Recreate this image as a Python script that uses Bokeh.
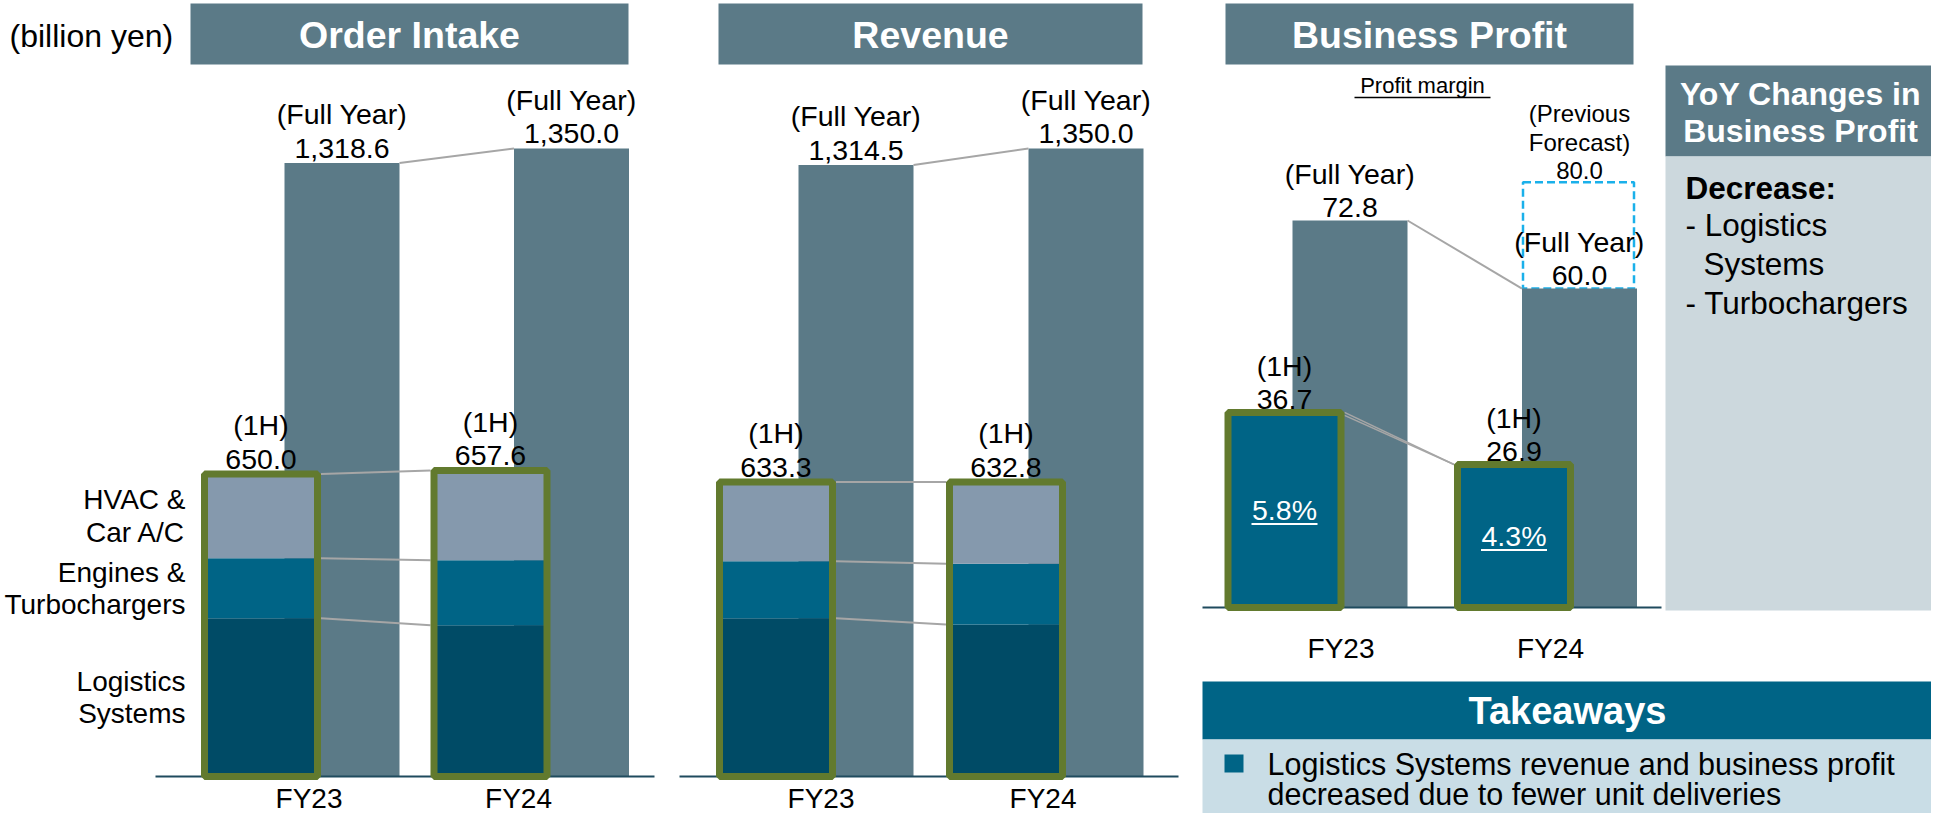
from bokeh.plotting import figure
from bokeh.models import Range1d, ColumnDataSource
from bokeh.core.properties import value
from bokeh.embed import file_html
from bokeh.resources import INLINE

# ---------------- data (billion yen) ----------------
years = ["FY23", "FY24"]
segments = ["Logistics\nSystems", "Engines &\nTurbochargers", "HVAC &\nCar A/C"]

order_full = [1318.6, 1350.0]
order_1h_total = [650.0, 657.6]
order_1h_logistics = [340.0, 325.0]
order_1h_engines = [129.0, 140.0]
order_1h_hvac = [181.0, 192.6]

revenue_full = [1314.5, 1350.0]
revenue_1h_total = [633.3, 632.8]
revenue_1h_logistics = [340.0, 326.5]
revenue_1h_engines = [122.5, 131.0]
revenue_1h_hvac = [170.8, 175.3]

profit_full = [72.8, 60.0]
profit_prev_forecast = 80.0
profit_1h = [36.7, 26.9]
profit_margin_1h = ["5.8%", "4.3%"]

# ---------------- style ----------------
FONT = "Liberation Sans"
SLATE = "#5B7A87"
HVAC_C = "#8599AD"
ENG_C = "#006486"
LOG_C = "#004B66"
GREEN = "#627A2E"
GRAY = "#A6A6A6"
AXIS_C = "#1F4B5E"
CYAN = "#1AB0EA"
YOY_BODY = "#CCD8DD"
TAKE_BODY = "#C9DDE6"
LAB = 28.5  # value label font size (px)

W, H = 1931, 813
M = 0  # default ranges are picture pixel coordinates

p = figure(width=W, height=H, x_range=Range1d(M, M + W), y_range=Range1d(M + H, M),
           output_backend="svg", toolbar_location=None, min_border=0,
           x_axis_location=None, y_axis_location=None, outline_line_color=None)
p.grid.visible = False
p.background_fill_color = "white"

# panel geometry (pixel layout)
panels = {
    "oi": dict(x0=341.5, kx=229.5, base=776, ky=0.4652, dodge=-81, axis=(155, 654),
               fy_off=[-33, -53], fy_dy=22, lab_dy=-32),
    "rv": dict(x0=855.5, kx=230.0, base=776, ky=0.4652, dodge=-80, axis=(679, 1178),
               fy_off=[-35, -43], fy_dy=22, lab_dy=-32),
    "bp": dict(x0=1349.5, kx=229.5, base=607, ky=5.316, dodge=-65.5, axis=(1202, 1661),
               fy_off=[-9, -29], fy_dy=41, lab_dy=-30),
}
for name, P in panels.items():
    xa = -(P["x0"] - M) / P["kx"]
    ya = -(M + H - P["base"]) / P["ky"]
    p.extra_x_ranges[name + "_x"] = Range1d(xa, xa + W / P["kx"])
    p.extra_y_ranges[name + "_y"] = Range1d(ya, ya + H / P["ky"])


def txt(x, y, text, size, color="black", bold=False, align="center", baseline="middle",
        xr="default", yr="default", x_off=0, y_off=0, lh=1.05):
    data = dict(x=list(x), y=list(y), t=list(text))
    kw = {}
    if isinstance(x_off, list):
        data["xo"] = x_off
        kw["x_offset"] = "xo"
    else:
        kw["x_offset"] = x_off
    src = ColumnDataSource(data)
    p.text(x="x", y="y", text="t", source=src, text_font=value(FONT),
           text_font_size=value(f"{size}px"), text_font_style="bold" if bold else "normal",
           text_color=color, text_align=align, text_baseline=baseline, y_offset=y_off,
           text_line_height=lh, x_range_name=xr, y_range_name=yr, **kw)


def fmt(v):
    return f"{v:,.1f}"


def draw_panel(name, full, total, parts=None):
    P = panels[name]
    xr, yr = name + "_x", name + "_y"
    kx, ky = P["kx"], P["ky"]
    idx = list(range(len(years)))
    fw = 115 / kx
    hw = 113 / kx
    d = P["dodge"] / kx
    hx = [i + d for i in idx]
    rk = dict(x_range_name=xr, y_range_name=yr)

    # full-year bars
    p.vbar(x=idx, top=full, bottom=0, width=fw, fill_color=SLATE, line_color=None, **rk)
    p.segment(x0=[idx[0] + fw / 2], y0=[full[0]], x1=[idx[1] - fw / 2], y1=[full[1]],
              line_color=GRAY, line_width=2, **rk)
    # baseline
    p.segment(x0=[P["axis"][0]], x1=[P["axis"][1]], y0=[P["base"]], y1=[P["base"]],
              line_color=AXIS_C, line_width=2)

    # 1H bars
    if parts is not None:
        logi, eng, hvac = parts
        src = ColumnDataSource(dict(x=hx, logistics=logi, engines=eng, hvac=hvac))
        p.vbar_stack(["logistics", "engines", "hvac"], x="x", width=hw, source=src,
                     fill_color=[LOG_C, ENG_C, HVAC_C], line_color=None, **rk)
        levels = [[logi[i], logi[i] + eng[i], total[i]] for i in idx]
        for lv in range(3):
            p.segment(x0=[hx[0] + hw / 2 + 3.5 / kx], y0=[levels[0][lv]],
                      x1=[hx[1] - hw / 2 - 3.5 / kx], y1=[levels[1][lv]],
                      line_color=GRAY, line_width=2, **rk)
    else:
        p.vbar(x=hx, top=total, bottom=0, width=hw, fill_color=ENG_C, line_color=None, **rk)
        for dy in (0, 3):
            p.segment(x0=[hx[0] + hw / 2 + 3.5 / kx], y0=[total[0] - dy / ky],
                      x1=[hx[1] - hw / 2 - 3.5 / kx], y1=[total[1]],
                      line_color=GRAY, line_width=1.5, **rk)
    # green outline of 1H bars
    p.quad(left=[x - hw / 2 for x in hx], right=[x + hw / 2 for x in hx], bottom=[0, 0],
           top=total, fill_color=None, line_color=GREEN, line_width=7, **rk)

    # value labels
    txt(idx, full, ["(Full Year)\n" + fmt(v) for v in full], LAB, xr=xr, yr=yr, y_off=P["lab_dy"])
    txt(hx, total, ["(1H)\n" + fmt(v) for v in total], LAB, xr=xr, yr=yr, y_off=P["lab_dy"])
    # year labels
    txt(idx, [0, 0], years, 28, xr=xr, yr=yr, x_off=P["fy_off"], y_off=P["fy_dy"])

    # segment names (left of first 1H bar)
    if parts is not None and name == "oi":
        logi, eng, hvac = parts
        mids = [logi[0] / 2, logi[0] + eng[0] / 2, logi[0] + eng[0] + hvac[0] / 2]
        txt([hx[0] - hw / 2] * 3, mids, segments, 28, align="right", xr=xr, yr=yr, x_off=-19)
    return idx, hx, fw, hw


# ---------------- headers ----------------
headers = [("Order Intake", 190, 628), ("Revenue", 718, 1142), ("Business Profit", 1225, 1633)]
p.quad(left=[h[1] for h in headers], right=[h[2] for h in headers], top=[3] * 3, bottom=[64] * 3,
       fill_color=SLATE, line_color=None)
txt([(h[1] + h[2]) / 2 for h in headers], [34] * 3, [h[0] for h in headers], 37.5,
    color="white", bold=True)
txt([9], [35], ["(billion yen)"], 32, align="left")

# ---------------- panels ----------------
draw_panel("oi", order_full, order_1h_total,
           (order_1h_logistics, order_1h_engines, order_1h_hvac))
draw_panel("rv", revenue_full, revenue_1h_total,
           (revenue_1h_logistics, revenue_1h_engines, revenue_1h_hvac))

# business profit: previous forecast dashed box first
kxb, kyb = panels["bp"]["kx"], panels["bp"]["ky"]
fwb = 111 / kxb
p.quad(left=[1 - fwb / 2 - 1 / kxb], right=[1 + fwb / 2 - 1 / kxb], bottom=[profit_full[1]],
       top=[profit_prev_forecast], fill_color=None, line_color=CYAN, line_width=2.5,
       line_dash="8 4", x_range_name="bp_x", y_range_name="bp_y")
idx, hx, fw, hw = draw_panel("bp", profit_full, profit_1h)
txt([1], [profit_prev_forecast], ["(Previous\nForecast)\n" + fmt(profit_prev_forecast)], 24,
    xr="bp_x", yr="bp_y", y_off=-40)
# profit margin labels inside 1H bars
txt(hx, [v / 2 for v in profit_1h], profit_margin_1h, LAB, color="white", xr="bp_x", yr="bp_y")
p.segment(x0=[x - 33 / kxb for x in hx], x1=[x + 33 / kxb for x in hx],
          y0=[v / 2 - 14 / kyb for v in profit_1h], y1=[v / 2 - 14 / kyb for v in profit_1h],
          line_color="white", line_width=2, x_range_name="bp_x", y_range_name="bp_y")
txt([1422], [85], ["Profit margin"], 22)
p.segment(x0=[1354], x1=[1490], y0=[97], y1=[97], line_color="black", line_width=1.5)

# ---------------- YoY box ----------------
p.quad(left=[1665], right=[1947], top=[65], bottom=[156], fill_color=SLATE, line_color=None)
p.quad(left=[1665], right=[1947], top=[156], bottom=[610], fill_color=YOY_BODY, line_color=None)
txt([1800, 1800], [93, 130], ["YoY Changes in", "Business Profit"], 32, color="white", bold=True)
txt([1685], [187], ["Decrease:"], 31.5, bold=True, align="left")
txt([1685, 1703, 1685], [224, 263, 302], ["- Logistics", "Systems", "- Turbochargers"], 31.5,
    align="left")

# ---------------- Takeaways ----------------
p.quad(left=[1202], right=[1947], top=[681], bottom=[739], fill_color=ENG_C, line_color=None)
p.quad(left=[1202], right=[1947], top=[739], bottom=[829], fill_color=TAKE_BODY, line_color=None)
txt([1567], [710], ["Takeaways"], 38, color="white", bold=True)
p.quad(left=[1224], right=[1243], top=[754], bottom=[772], fill_color=ENG_C, line_color=None)
txt([1267, 1267], [763, 793], ["Logistics Systems revenue and business profit",
                               "decreased due to fewer unit deliveries"], 30.5, align="left")

open("out.html", "w").write(file_html(p, INLINE))
